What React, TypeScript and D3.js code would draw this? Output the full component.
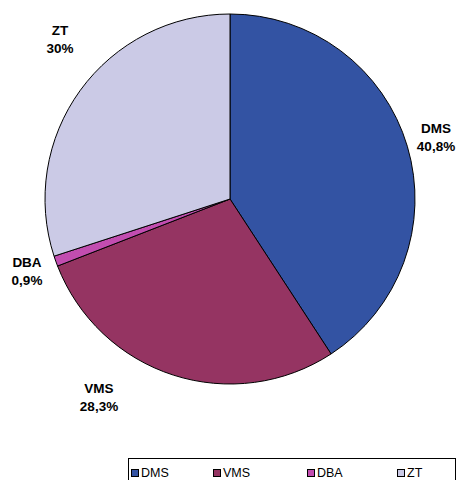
import React from "react";
import * as d3 from "d3";

const categories = ["DMS", "VMS", "DBA", "ZT"];
const values = [40.8, 28.3, 0.9, 30];
const valueLabels = ["40,8%", "28,3%", "0,9%", "30%"];
const colors = ["#3353A3", "#953462", "#C24DB0", "#CBCAE6"];

const W = 465;
const H = 480;
const cx = 230;
const cy = 199;
const R = 185;

// label anchor positions (centre of two-line label)
const labelPos: [number, number][] = [
  [436, 137],
  [99, 397],
  [27, 271],
  [60, 39],
];

export default function App() {
  const pie = d3.pie<number>().sort(null).value((d) => d);
  const arcs = pie(values);
  const arc = d3.arc<d3.PieArcDatum<number>>().innerRadius(0).outerRadius(R);

  const legendX = 128;
  const legendY = 458;
  const legendW = 327;
  const itemX = [131, 213, 307, 397];

  return (
    <svg
      width={W}
      height={H}
      style={{ position: "absolute", left: 0, top: 0 }}
      fontFamily="Arial, 'Liberation Sans', sans-serif"
    >
      <rect width={W} height={H} fill="#fff" />
      <g transform={`translate(${cx},${cy})`}>
        {arcs.map((a, i) => (
          <path
            key={i}
            d={arc(a) || ""}
            fill={colors[i]}
            stroke="#000"
            strokeWidth={1}
          />
        ))}
      </g>
      {categories.map((c, i) => (
        <text
          key={c}
          x={labelPos[i][0]}
          y={labelPos[i][1]}
          textAnchor="middle"
          fontWeight="bold"
          fontSize={13.5}
        >
          <tspan x={labelPos[i][0]} dy={-4}>
            {c}
          </tspan>
          <tspan x={labelPos[i][0]} dy={17.5}>
            {valueLabels[i]}
          </tspan>
        </text>
      ))}
      <rect
        x={legendX + 0.5}
        y={legendY + 0.5}
        width={legendW}
        height={30}
        fill="#fff"
        stroke="#000"
        strokeWidth={1}
      />
      {categories.map((c, i) => (
        <g key={c}>
          <rect
            x={itemX[i] + 0.5}
            y={469.5}
            width={7}
            height={7}
            fill={colors[i]}
            stroke="#000"
            strokeWidth={1}
          />
          <text x={itemX[i] + 10} y={477} fontSize={12.5}>
            {c}
          </text>
        </g>
      ))}
    </svg>
  );
}
